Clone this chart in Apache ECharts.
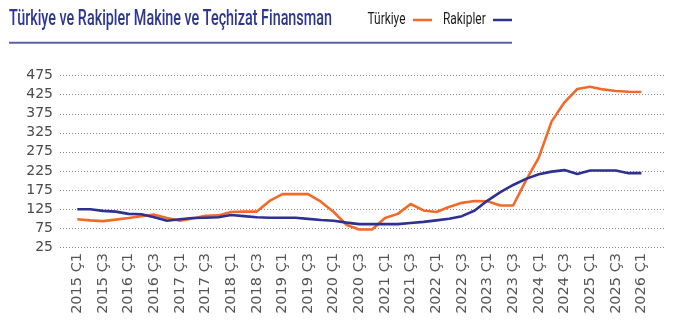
<!DOCTYPE html>
<html>
<head>
<meta charset="utf-8">
<script src="https://cdn.jsdelivr.net/npm/echarts@6/dist/echarts.min.js"></script>
<style>
  html, body { margin: 0; padding: 0; background: #ffffff; }
  #chart { width: 678px; height: 327px; }
</style>
</head>
<body>
<div id="chart"></div>
<script>
// Quarterly periods, 2015 Q1 – 2026 Q1
const quarters = [
  '2015 Ç1', '2015 Ç2', '2015 Ç3', '2015 Ç4',
  '2016 Ç1', '2016 Ç2', '2016 Ç3', '2016 Ç4',
  '2017 Ç1', '2017 Ç2', '2017 Ç3', '2017 Ç4',
  '2018 Ç1', '2018 Ç2', '2018 Ç3', '2018 Ç4',
  '2019 Ç1', '2019 Ç2', '2019 Ç3', '2019 Ç4',
  '2020 Ç1', '2020 Ç2', '2020 Ç3', '2020 Ç4',
  '2021 Ç1', '2021 Ç2', '2021 Ç3', '2021 Ç4',
  '2022 Ç1', '2022 Ç2', '2022 Ç3', '2022 Ç4',
  '2023 Ç1', '2023 Ç2', '2023 Ç3', '2023 Ç4',
  '2024 Ç1', '2024 Ç2', '2024 Ç3', '2024 Ç4',
  '2025 Ç1', '2025 Ç2', '2025 Ç3', '2025 Ç4',
  '2026 Ç1'
];

// Machinery & equipment financing index – Türkiye
const turkiye = [
  98, 95, 93, 97, 101, 106, 110, 101, 94, 100,
  107, 108, 117, 118, 118, 146, 164, 164, 164, 144,
  117, 83, 71, 71, 101, 112, 138, 121, 117, 130,
  141, 146, 145, 134, 134, 200, 260, 355, 405, 440,
  446, 439, 435, 433, 432
];

// Machinery & equipment financing index – competitors
const rakipler = [
  124, 124, 120, 118, 112, 111, 103, 94, 98, 101,
  102, 103, 109, 106, 103, 102, 102, 102, 99, 96,
  94, 89, 85, 85, 85, 85, 88, 91, 95, 99,
  106, 121, 147, 169, 188, 204, 216, 223, 227, 217,
  226, 226, 226, 219, 219
];

// Value axis ticks
const yMin = 25;
const yMax = 475;
const yStep = 50;

const titleText = 'Türkiye ve Rakipler Makine ve Teçhizat Finansman';
const seriesNames = ['Türkiye', 'Rakipler'];
const seriesColors = ['#f26a2a', '#2e3192'];

const axisFont = "'DejaVu Sans', sans-serif";
const titleFont = "500 22px Roboto, sans-serif";
const legendFont = "17px Roboto, sans-serif";

// No condensed face is installed, so headline texts are squeezed horizontally
const measureCtx = document.createElement('canvas').getContext('2d');
function textWidth(str, font) {
  measureCtx.font = font;
  return measureCtx.measureText(str).width;
}
const titleScale = 323 / textWidth(titleText, titleFont);
const legendScale = 38 / textWidth(seriesNames[0], legendFont);

const legendLayout = [
  { textX: 367.5, lineX1: 413, lineX2: 432 },
  { textX: 443, lineX1: 493, lineX2: 512 }
];

const legendGraphics = [];
seriesNames.forEach(function (name, i) {
  legendGraphics.push({
    type: 'text',
    x: legendLayout[i].textX,
    y: 19.5,
    scaleX: legendScale,
    style: {
      text: name,
      font: legendFont,
      fill: '#1c1c1c',
      align: 'left',
      verticalAlign: 'middle'
    }
  });
  legendGraphics.push({
    type: 'line',
    shape: { x1: legendLayout[i].lineX1, y1: 20, x2: legendLayout[i].lineX2, y2: 20 },
    style: { stroke: seriesColors[i], lineWidth: 2.5 }
  });
});

const chart = echarts.init(document.getElementById('chart'), null, { renderer: 'canvas' });

const gridTop = 75.7;
const gridBottom = 80;

chart.setOption({
  animation: false,
  backgroundColor: '#ffffff',
  graphic: [
    {
      type: 'text',
      x: 9,
      y: 19,
      scaleX: titleScale,
      style: {
        text: titleText,
        font: titleFont,
        fill: '#2e3790',
        align: 'left',
        verticalAlign: 'middle'
      }
    },
    {
      type: 'line',
      shape: { x1: 9, y1: 42.7, x2: 512, y2: 42.7 },
      style: { stroke: '#5a63aa', lineWidth: 2 }
    }
  ].concat(legendGraphics),
  grid: [
    { left: 60, right: 12, top: gridTop, bottom: gridBottom },
    { left: 77.3, right: 36.6, top: gridTop, bottom: gridBottom }
  ],
  xAxis: [
    { gridIndex: 0, type: 'value', show: false, min: 0, max: 1 },
    {
      gridIndex: 1,
      type: 'category',
      data: quarters,
      boundaryGap: false,
      axisLine: { show: false },
      axisTick: { show: false },
      axisLabel: {
        interval: 1,
        rotate: 90,
        margin: 6,
        fontFamily: axisFont,
        fontSize: 14.5,
        color: '#555555'
      }
    }
  ],
  yAxis: [
    {
      gridIndex: 0,
      type: 'value',
      min: yMin,
      max: yMax,
      interval: yStep,
      axisLine: { show: false },
      axisTick: { show: false },
      axisLabel: {
        margin: 7,
        fontFamily: axisFont,
        fontSize: 14,
        color: '#4a4a4a'
      },
      splitLine: {
        lineStyle: { type: [1, 2], color: '#8a8a8a', width: 1 }
      }
    },
    {
      gridIndex: 1,
      type: 'value',
      min: yMin,
      max: yMax,
      interval: yStep,
      show: false,
      splitLine: { show: false }
    }
  ],
  series: [
    {
      name: seriesNames[0],
      type: 'line',
      xAxisIndex: 1,
      yAxisIndex: 1,
      data: turkiye,
      symbol: 'none',
      lineStyle: { color: seriesColors[0], width: 2.6 },
      itemStyle: { color: seriesColors[0] }
    },
    {
      name: seriesNames[1],
      type: 'line',
      xAxisIndex: 1,
      yAxisIndex: 1,
      data: rakipler,
      symbol: 'none',
      lineStyle: { color: seriesColors[1], width: 2.6 },
      itemStyle: { color: seriesColors[1] }
    }
  ]
});
</script>
</body>
</html>
